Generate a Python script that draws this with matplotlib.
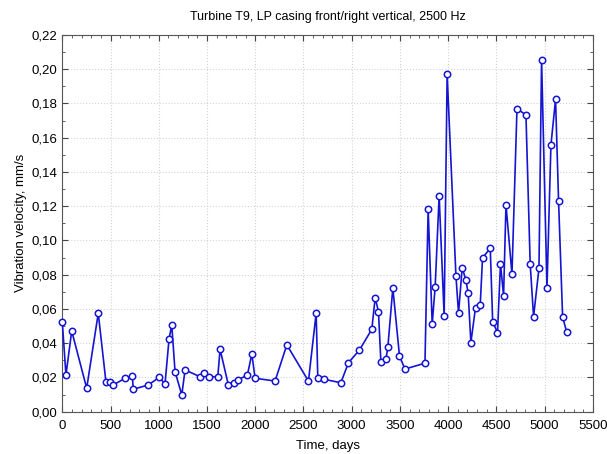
import matplotlib
matplotlib.use("Agg")
import matplotlib.pyplot as plt
from matplotlib.ticker import MultipleLocator, FuncFormatter

days = [0, 38, 98, 253, 373, 453, 495, 529, 650, 726,
        736, 892, 1006, 1065, 1107, 1135, 1169, 1239, 1273, 1428,
        1473, 1525, 1612, 1636, 1722, 1784, 1819, 1919, 1965, 1999,
        2206, 2328, 2552, 2632, 2649, 2715, 2888, 2967, 3081, 3209,
        3244, 3278, 3303, 3355, 3375, 3427, 3496, 3552, 3760, 3793,
        3835, 3866, 3907, 3959, 3990, 4081, 4108, 4146, 4184, 4208,
        4236, 4284, 4333, 4357, 4437, 4462, 4512, 4543, 4575, 4600,
        4662, 4714, 4807, 4851, 4886, 4942, 4969, 5025, 5066, 5114,
        5145, 5187, 5228]
velocity = [0.0526, 0.0214, 0.0471, 0.0137, 0.0575, 0.0172, 0.0172, 0.0156, 0.0195, 0.0208,
            0.0131, 0.0156, 0.0201, 0.0162, 0.0425, 0.0506, 0.0234, 0.0098, 0.0244, 0.0204,
            0.0228, 0.0204, 0.0204, 0.0364, 0.0156, 0.0166, 0.0185, 0.0214, 0.0337, 0.0195,
            0.0179, 0.0390, 0.0179, 0.0575, 0.0199, 0.0189, 0.0169, 0.0286, 0.0360, 0.0481,
            0.0666, 0.0584, 0.0292, 0.0306, 0.0375, 0.0722, 0.0325, 0.0249, 0.0283, 0.1182,
            0.0512, 0.0730, 0.1261, 0.0561, 0.1970, 0.0794, 0.0575, 0.0841, 0.0769, 0.0691,
            0.0403, 0.0607, 0.0623, 0.0899, 0.0953, 0.0526, 0.0461, 0.0863, 0.0677, 0.1209,
            0.0802, 0.1768, 0.1733, 0.0861, 0.0555, 0.0837, 0.2054, 0.0724, 0.1557, 0.1824,
            0.1232, 0.0555, 0.0467]

plt.rcParams['font.family'] = ['Liberation Sans', 'DejaVu Sans']

fig = plt.figure(figsize=(6.07, 4.54), dpi=100)
ax = fig.add_axes([0.1026, 0.0932, 0.874, 0.830])

ax.plot(days, velocity, color="#1414d2", lw=1.2, marker="o", ms=4.6,
        mfc="white", mec="#1414d2", mew=1.1, clip_on=False, zorder=3)

ax.set_xlim(0, 5500)
ax.set_ylim(0, 0.22)
ax.xaxis.set_major_locator(MultipleLocator(500))
ax.xaxis.set_minor_locator(MultipleLocator(100))
ax.yaxis.set_major_locator(MultipleLocator(0.02))
ax.yaxis.set_minor_locator(MultipleLocator(0.01))
ax.yaxis.set_major_formatter(FuncFormatter(lambda v, p: f"{v:.2f}".replace(".", ",")))

ax.tick_params(which="both", direction="in", top=True, right=True,
               labelsize=9.5, color="#444444")
ax.tick_params(which="major", length=4)
ax.tick_params(which="minor", length=2.5)
ax.tick_params(axis="x", pad=6)
ax.grid(True, which="major", ls=":", color="#d4d4d4", lw=0.8)
for s in ax.spines.values():
    s.set_color("#555555")

ax.set_title("Turbine T9, LP casing front/right vertical, 2500 Hz", fontsize=9, pad=11)
ax.set_xlabel("Time, days", fontsize=9.5, labelpad=6)
ax.set_ylabel("Vibration velocity, mm/s", fontsize=9.5, labelpad=3)

fig.savefig("out.png", dpi=100)
